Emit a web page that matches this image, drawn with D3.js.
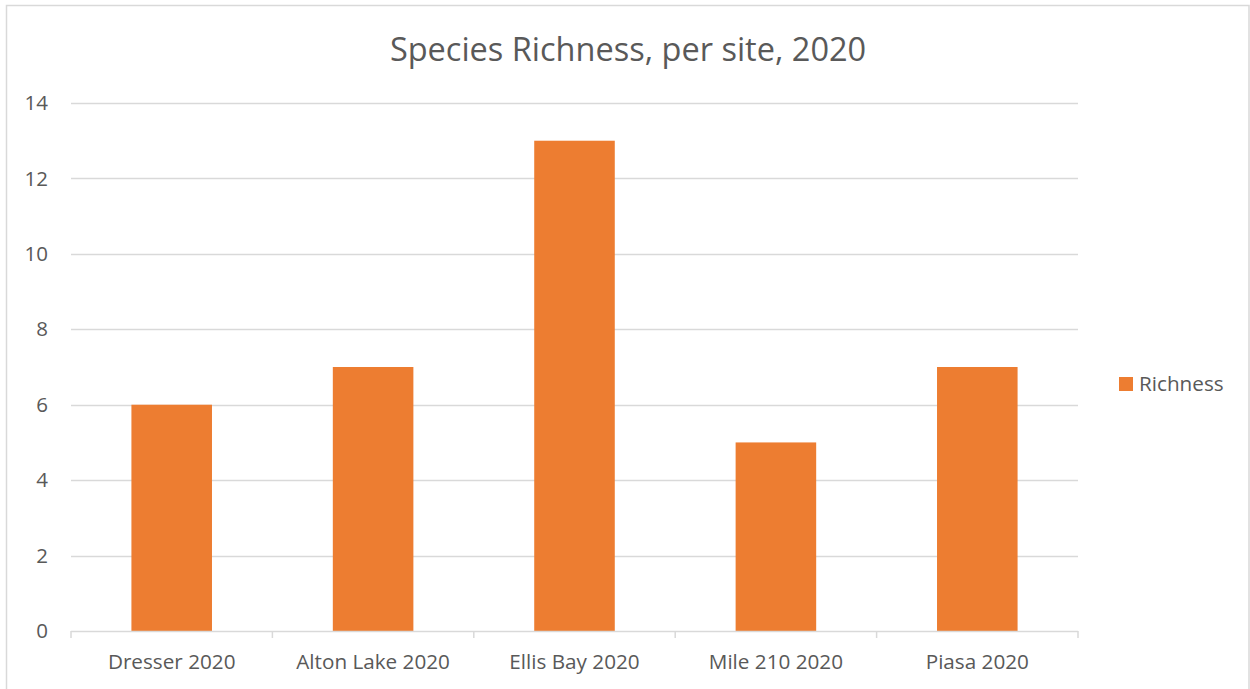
<!DOCTYPE html>
<html><head><meta charset="utf-8">
<script src="https://cdn.jsdelivr.net/npm/d3@7"></script>
<style>html,body{margin:0;padding:0;background:#fff;}svg{display:block;font-family:"Open Sans",sans-serif;}</style>
</head><body>
<svg id="c" width="1250" height="689"></svg>
<script>
const categories = ["Dresser 2020","Alton Lake 2020","Ellis Bay 2020","Mile 210 2020","Piasa 2020"];
const richness = [6,7,13,5,7];
const yTicks = [0,2,4,6,8,10,12,14];
const seriesName = "Richness";
const title = "Species Richness, per site, 2020";

const svg = d3.select("#c");
const txt = "#595959", grid = "#d9d9d9", orange = "#ed7d31";
svg.append("rect").attr("x",6.5).attr("y",5.5).attr("width",1242.5).attr("height",700).attr("fill","#fff").attr("stroke","#d9d9d9").attr("stroke-width",1.5);

const L=71, R=1078, T=103, B=631;
const x = d3.scaleBand().domain(categories).range([L,R]).paddingInner(0).paddingOuter(0);
const y = d3.scaleLinear().domain([0,14]).range([B,T]);

// gridlines
svg.append("g").selectAll("line").data(yTicks.filter(d=>d>0)).join("line")
  .attr("x1",L).attr("x2",R).attr("y1",d=>Math.round(y(d))+0.5).attr("y2",d=>Math.round(y(d))+0.5)
  .attr("stroke",grid).attr("stroke-width",1.5);

// y labels
svg.append("g").selectAll("text").data(yTicks).join("text")
  .attr("x",48).attr("y",d=>y(d)).attr("dy","0.35em").attr("text-anchor","end")
  .attr("fill",txt).attr("font-size",20.5).text(d=>d);

// bars
const bw = x.bandwidth()*0.4;
svg.append("g").selectAll("rect").data(richness).join("rect")
  .attr("x",(d,i)=>x(categories[i])+x.bandwidth()/2-bw/2)
  .attr("y",d=>y(d)).attr("width",bw).attr("height",d=>B-y(d)).attr("fill",orange);

// x axis
const xa = svg.append("g").attr("transform",`translate(0,${B})`).call(d3.axisBottom(x).tickSize(0).tickFormat(""));
xa.select(".domain").remove();
svg.append("line").attr("x1",L).attr("x2",R).attr("y1",B+0.5).attr("y2",B+0.5).attr("stroke",grid).attr("stroke-width",1.5);
const bounds = categories.map(c=>x(c)).concat([R]);
svg.append("g").selectAll("line").data(bounds).join("line")
  .attr("x1",d=>d).attr("x2",d=>d).attr("y1",B).attr("y2",B+7).attr("stroke",grid).attr("stroke-width",1.5);
svg.append("g").selectAll("text").data(categories).join("text")
  .attr("x",d=>x(d)+x.bandwidth()/2).attr("y",669).attr("text-anchor","middle")
  .attr("fill",txt).attr("font-size",20.7).text(d=>d);

// title
svg.append("text").attr("x",628).attr("y",61).attr("text-anchor","middle").attr("fill",txt)
  .attr("font-size",32.5).text(title);

// legend
svg.append("rect").attr("x",1119).attr("y",377).attr("width",14).attr("height",14).attr("fill",orange);
svg.append("text").attr("x",1139).attr("y",391).attr("fill",txt).attr("font-size",20.7).text(seriesName);
</script>
</body></html>
